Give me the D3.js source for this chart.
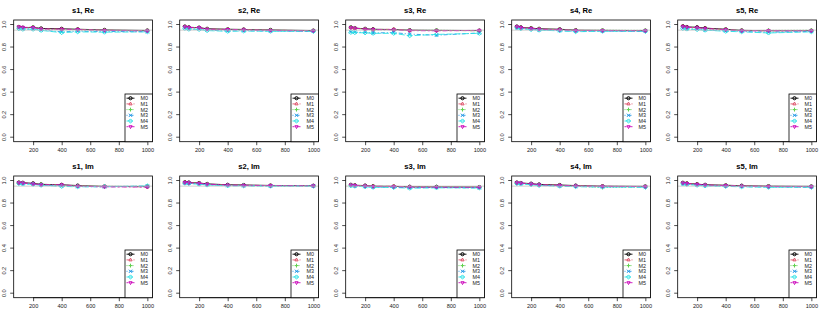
<!DOCTYPE html>
<html><head><meta charset="utf-8">
<script src="https://cdn.jsdelivr.net/npm/d3@7"></script>
<style>body{margin:0;background:#fff}svg{display:block}text{font-family:"Liberation Sans",Arial,sans-serif}</style>
</head><body>
<script>
const xVals = [100, 128, 200, 256, 400, 512, 700, 1000];
const xTicks = [200, 400, 600, 800, 1000];
const yTicks = [0, 0.2, 0.4, 0.6, 0.8, 1.0];
const seriesNames = ["M0", "M1", "M2", "M3", "M4", "M5"];
const seriesColors = ["#000000", "#DF536B", "#61D04F", "#2297E6", "#28E2E5", "#CD0BBC"];
const seriesDash = ["", "4,3", "1,2", "1,2,4,2", "6,2", "2,2,5,2"];
const seriesShape = ["circle", "triangle", "plus", "cross", "diamond", "triangleDown"];
const panelTitles = ["s1, Re", "s2, Re", "s3, Re", "s4, Re", "s5, Re", "s1, Im", "s2, Im", "s3, Im", "s4, Im", "s5, Im"];
const nominal = 0.95;

const s1Re = [
  [0.978,0.972,0.975,0.965,0.962,0.958,0.952,0.947],
  [0.976,0.970,0.972,0.962,0.958,0.955,0.950,0.945],
  [0.980,0.968,0.978,0.960,0.955,0.952,0.948,0.944],
  [0.965,0.960,0.962,0.950,0.935,0.940,0.938,0.936],
  [0.962,0.958,0.958,0.948,0.928,0.935,0.932,0.935],
  [0.980,0.975,0.974,0.960,0.958,0.955,0.948,0.943]];
const s2Re = [
  [0.982,0.975,0.972,0.962,0.958,0.956,0.952,0.946],
  [0.980,0.972,0.970,0.960,0.956,0.954,0.950,0.945],
  [0.978,0.970,0.975,0.958,0.955,0.952,0.949,0.944],
  [0.968,0.962,0.960,0.950,0.944,0.945,0.942,0.940],
  [0.966,0.958,0.956,0.946,0.940,0.942,0.940,0.938],
  [0.980,0.974,0.973,0.958,0.956,0.953,0.948,0.943]];
const s3Re = [
  [0.975,0.968,0.962,0.958,0.955,0.950,0.948,0.946],
  [0.973,0.966,0.960,0.955,0.958,0.948,0.946,0.945],
  [0.976,0.970,0.958,0.952,0.954,0.947,0.950,0.944],
  [0.935,0.932,0.930,0.925,0.928,0.915,0.905,0.925],
  [0.930,0.928,0.926,0.922,0.922,0.900,0.912,0.922],
  [0.972,0.968,0.958,0.955,0.953,0.946,0.944,0.948]];
const s4Re = [
  [0.982,0.975,0.968,0.962,0.958,0.950,0.948,0.946],
  [0.980,0.972,0.966,0.960,0.955,0.948,0.947,0.945],
  [0.978,0.970,0.965,0.958,0.954,0.946,0.950,0.948],
  [0.972,0.965,0.958,0.952,0.946,0.940,0.942,0.940],
  [0.970,0.962,0.955,0.950,0.944,0.936,0.940,0.938],
  [0.980,0.973,0.964,0.958,0.953,0.946,0.946,0.944]];
const s5Re = [
  [0.985,0.978,0.976,0.968,0.958,0.948,0.945,0.946],
  [0.983,0.975,0.972,0.965,0.956,0.946,0.944,0.945],
  [0.980,0.972,0.970,0.962,0.955,0.945,0.948,0.950],
  [0.968,0.962,0.958,0.952,0.944,0.938,0.932,0.938],
  [0.965,0.960,0.955,0.950,0.940,0.935,0.925,0.935],
  [0.982,0.976,0.972,0.964,0.954,0.944,0.946,0.944]];
const s1Im = [
  [0.982,0.980,0.975,0.966,0.962,0.955,0.948,0.946],
  [0.980,0.978,0.972,0.964,0.960,0.952,0.946,0.944],
  [0.978,0.976,0.970,0.968,0.958,0.950,0.948,0.948],
  [0.975,0.972,0.968,0.960,0.952,0.946,0.944,0.950],
  [0.972,0.970,0.966,0.958,0.948,0.944,0.946,0.952],
  [0.980,0.978,0.970,0.962,0.962,0.950,0.944,0.942]];
const s2Im = [
  [0.985,0.982,0.978,0.970,0.962,0.960,0.956,0.954],
  [0.983,0.980,0.976,0.968,0.960,0.958,0.955,0.953],
  [0.980,0.978,0.974,0.966,0.958,0.956,0.954,0.952],
  [0.978,0.975,0.970,0.962,0.955,0.954,0.952,0.951],
  [0.976,0.972,0.968,0.960,0.953,0.952,0.950,0.950],
  [0.982,0.980,0.975,0.967,0.960,0.957,0.955,0.953]];
const s3Im = [
  [0.962,0.958,0.955,0.950,0.948,0.945,0.944,0.942],
  [0.960,0.956,0.953,0.948,0.950,0.943,0.942,0.941],
  [0.958,0.955,0.950,0.946,0.945,0.940,0.945,0.940],
  [0.955,0.952,0.946,0.942,0.940,0.936,0.938,0.935],
  [0.953,0.950,0.944,0.940,0.938,0.932,0.935,0.934],
  [0.960,0.957,0.952,0.947,0.946,0.942,0.941,0.940]];
const s4Im = [
  [0.982,0.978,0.972,0.965,0.960,0.955,0.950,0.948],
  [0.980,0.976,0.970,0.963,0.958,0.953,0.948,0.946],
  [0.978,0.975,0.968,0.962,0.956,0.950,0.938,0.945],
  [0.975,0.972,0.965,0.958,0.952,0.948,0.944,0.943],
  [0.972,0.970,0.962,0.956,0.950,0.945,0.942,0.940],
  [0.980,0.977,0.970,0.962,0.957,0.952,0.948,0.946]];
const s5Im = [
  [0.980,0.975,0.968,0.962,0.958,0.954,0.950,0.948],
  [0.978,0.973,0.966,0.960,0.956,0.952,0.948,0.946],
  [0.976,0.972,0.964,0.958,0.955,0.950,0.946,0.945],
  [0.972,0.968,0.960,0.955,0.950,0.946,0.943,0.942],
  [0.970,0.965,0.958,0.952,0.948,0.944,0.940,0.940],
  [0.978,0.974,0.966,0.960,0.955,0.951,0.947,0.945]];
const panelData = [s1Re, s2Re, s3Re, s4Re, s5Re, s1Im, s2Im, s3Im, s4Im, s5Im];

const W = 830, H = 312;
const svg = d3.select("body").append("svg").attr("width", W).attr("height", H);
const panelW = 166, panelH = 156;
const box = {left: 13.7, right: 152.5, top: 20, bottom: 141.7};
const tickFont = 5.6;

function shapePath(shape, s) {
  const r = s;
  switch (shape) {
    case "circle": return d3.symbol(d3.symbolCircle, Math.PI * r * r)();
    case "triangle": return `M0,${-r*1.15}L${r},${r*0.6}L${-r},${r*0.6}Z`;
    case "triangleDown": return `M0,${r*1.15}L${r},${-r*0.6}L${-r},${-r*0.6}Z`;
    case "plus": return `M${-r*1.2},0L${r*1.2},0M0,${-r*1.2}L0,${r*1.2}`;
    case "cross": return `M${-r},${-r}L${r},${r}M${-r},${r}L${r},${-r}`;
    case "diamond": return `M0,${-r*1.3}L${r*1.3},0L0,${r*1.3}L${-r*1.3},0Z`;
  }
}

const xMin = d3.min(xVals), xMax = d3.max(xVals);
const xPad = (xMax - xMin) * 0.04;

panelData.forEach((data, pi) => {
  const col = pi % 5, row = Math.floor(pi / 5);
  const g = svg.append("g").attr("transform", `translate(${col * panelW},${row * panelH})`);
  const x = d3.scaleLinear().domain([xMin - xPad, xMax + xPad]).range([box.left, box.right]);
  const y = d3.scaleLinear().domain([-0.04, 1.04]).range([box.bottom, box.top]);

  g.append("text").attr("x", (box.left + box.right) / 2).attr("y", 13)
    .attr("text-anchor", "middle").attr("font-size", 7.6).attr("font-weight", "bold").text(panelTitles[pi]);

  const xAxis = g.append("g").attr("transform", `translate(0,${box.bottom})`)
    .call(d3.axisBottom(x).tickValues(xTicks).tickSize(3.5).tickPadding(2.5).tickFormat(d3.format("d")));
  xAxis.select(".domain").attr("d", `M${x(xTicks[0])},0H${x(xTicks[xTicks.length-1])}`).attr("stroke", "#000").attr("stroke-width", 0.7);
  xAxis.selectAll("line").attr("stroke-width", 0.7);
  xAxis.selectAll("text").attr("font-size", tickFont).attr("font-family", "Liberation Sans, Arial, sans-serif").attr("fill", "#222");

  const yAxis = g.append("g").attr("transform", `translate(${box.left},0)`)
    .call(d3.axisLeft(y).tickValues(yTicks).tickSize(3.5).tickFormat(d3.format(".1f")));
  yAxis.select(".domain").remove();
  yAxis.selectAll("line").attr("stroke-width", 0.7);
  yAxis.selectAll("text").attr("font-size", tickFont).attr("font-family", "Liberation Sans, Arial, sans-serif").attr("fill", "#222")
    .attr("text-anchor", "middle").attr("x", 0).attr("dy", 0)
    .attr("transform", d => `translate(-8,${y(d)}) rotate(-90)`).attr("y", 0);
  yAxis.selectAll(".tick").attr("transform", null);
  yAxis.selectAll(".tick line").attr("transform", d => `translate(0,${y(d)})`);

  const line = d3.line().x((d, i) => x(xVals[i])).y(d => y(d));
  data.forEach((vals, si) => {
    g.append("path").attr("d", line(vals)).attr("fill", "none").attr("stroke", seriesColors[si])
      .attr("stroke-width", 0.9).attr("stroke-dasharray", seriesDash[si]);
    g.selectAll(null).data(vals).enter().append("path")
      .attr("transform", (d, i) => `translate(${x(xVals[i])},${y(d)})`)
      .attr("d", shapePath(seriesShape[si], 1.6)).attr("fill", "none")
      .attr("stroke", seriesColors[si]).attr("stroke-width", 1);
  });

  g.append("line").attr("x1", box.left).attr("x2", box.right).attr("y1", y(nominal)).attr("y2", y(nominal))
    .attr("stroke", "#bebebe").attr("stroke-width", 0.9).attr("opacity", 0.8);

  g.append("rect").attr("x", box.left).attr("y", box.top).attr("width", box.right - box.left).attr("height", box.bottom - box.top)
    .attr("fill", "none").attr("stroke", "#000").attr("stroke-width", 0.8);

  const lg = g.append("g");
  const lx = 125, ly = 94, rowH = 5.7;
  lg.append("rect").attr("x", lx).attr("y", ly).attr("width", box.right - lx).attr("height", box.bottom - ly)
    .attr("fill", "#fff").attr("stroke", "#000").attr("stroke-width", 0.8);
  seriesNames.forEach((nm, si) => {
    const yy = ly + 4.2 + si * rowH;
    lg.append("line").attr("x1", lx + 1.5).attr("x2", lx + 9.5).attr("y1", yy).attr("y2", yy)
      .attr("stroke", seriesColors[si]).attr("stroke-width", 0.9).attr("stroke-dasharray", seriesDash[si]);
    lg.append("path").attr("transform", `translate(${lx + 5.5},${yy})`).attr("d", shapePath(seriesShape[si], 1.6))
      .attr("fill", "none").attr("stroke", seriesColors[si]).attr("stroke-width", 1);
    lg.append("text").attr("x", lx + 15.5).attr("y", yy + 1.9).attr("font-size", 5.4).attr("fill", "#222").text(nm);
  });
});
</script>
</body></html>
